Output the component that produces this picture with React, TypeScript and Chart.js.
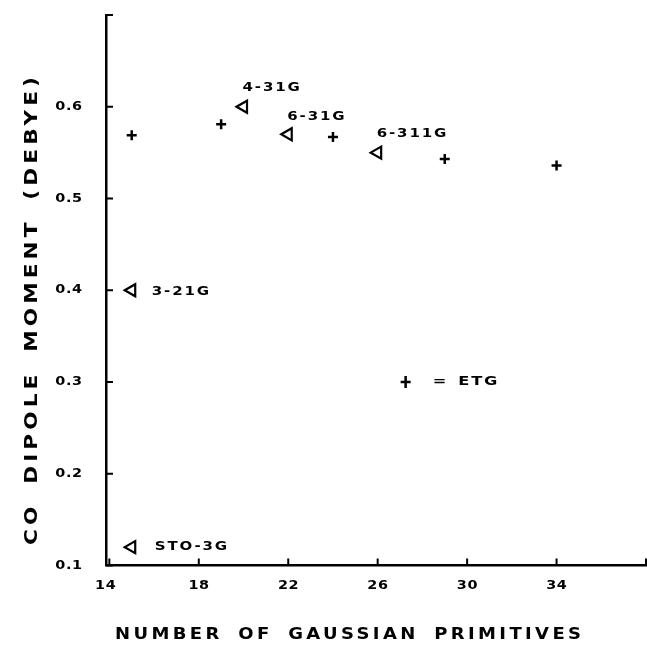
import { useEffect, useRef } from "react";
import { Chart, registerables } from "chart.js";

Chart.register(...registerables);

// ---- data ----
const etgPrimitives = [15, 19, 24, 29, 34];
const etgDipole = [0.569, 0.581, 0.567, 0.543, 0.536];

const basisNames = ["STO-3G", "3-21G", "4-31G", "6-31G", "6-311G"];
const basisPrimitives = [15, 15, 20, 22, 26];
const basisDipole = [0.12, 0.4, 0.6, 0.57, 0.55];

const xTickValues = [14, 18, 22, 26, 30, 34, 38];
const xTickLabels = ["14", "18", "22", "26", "30", "34", ""];
const yTickValues = [0.1, 0.2, 0.3, 0.4, 0.5, 0.6, 0.7];
const yTickLabels = ["0.1", "0.2", "0.3", "0.4", "0.5", "0.6", ""];

const xTitle = "NUMBER OF GAUSSIAN PRIMITIVES";
const yTitle = "CO DIPOLE MOMENT (DEBYE)";
const legendLabel = "= ETG";
const legendPrimitives = 27.25;
const legendDipole = 0.3;

// ---- layout / style (pixels) ----
const labelOffsets: [number, number][] = [
  [23, 0],
  [20, 2],
  [-1, -19],
  [-1, -17],
  [-1, -19],
];

type TextOpts = { size: number; sx: number; ls: number; ws: number; align: "left" | "center" | "right" };

function drawStretched(ctx: CanvasRenderingContext2D, text: string, x: number, y: number, o: TextOpts) {
  ctx.save();
  ctx.font = `bold ${o.size}px "DejaVu Sans"`;
  (ctx as any).letterSpacing = `${o.ls}px`;
  (ctx as any).wordSpacing = `${o.ws}px`;
  ctx.textBaseline = "middle";
  ctx.textAlign = "left";
  ctx.fillStyle = "#000";
  const w = (ctx.measureText(text).width - o.ls) * o.sx;
  let x0 = x;
  if (o.align === "center") x0 = x - w / 2;
  else if (o.align === "right") x0 = x - w;
  ctx.translate(x0, y);
  ctx.scale(o.sx, 1);
  ctx.fillText(text, 0, 0);
  ctx.restore();
}

const annotPlugin = {
  id: "annot",
  afterDraw(chart: any) {
    const ctx: CanvasRenderingContext2D = chart.ctx;
    const xs = chart.scales.x;
    const ys = chart.scales.y;
    const area = chart.chartArea;
    ctx.save();
    ctx.strokeStyle = "#000";
    ctx.lineWidth = 2;
    // inward tick marks
    xs.ticks.forEach((t: any) => {
      const px = xs.getPixelForValue(t.value);
      ctx.beginPath();
      ctx.moveTo(px, area.bottom);
      ctx.lineTo(px, area.bottom - 7);
      ctx.stroke();
    });
    ys.ticks.forEach((t: any) => {
      const py = ys.getPixelForValue(t.value);
      ctx.beginPath();
      ctx.moveTo(area.left, py);
      ctx.lineTo(area.left + 7, py);
      ctx.stroke();
    });
    // tick labels
    const tickFont: TextOpts = { size: 12, sx: 1.2, ls: 0.5, ws: 0, align: "center" };
    xTickValues.forEach((v, i) => {
      if (!xTickLabels[i]) return;
      drawStretched(ctx, xTickLabels[i], xs.getPixelForValue(v) - (i === 0 ? 4 : 0), area.bottom + 20, tickFont);
    });
    yTickValues.forEach((v, i) => {
      if (!yTickLabels[i]) return;
      drawStretched(ctx, yTickLabels[i], 82, ys.getPixelForValue(v), { ...tickFont, align: "right" });
    });
    // point labels
    const annFont: TextOpts = { size: 12, sx: 1.25, ls: 1.5, ws: 0, align: "left" };
    basisNames.forEach((name, i) => {
      const px = xs.getPixelForValue(basisPrimitives[i]);
      const py = ys.getPixelForValue(basisDipole[i]);
      drawStretched(ctx, name, px + labelOffsets[i][0], py + labelOffsets[i][1], annFont);
    });
    // legend key
    const lx = xs.getPixelForValue(legendPrimitives);
    const ly = ys.getPixelForValue(legendDipole);
    ctx.lineWidth = 2.5;
    ctx.beginPath();
    ctx.moveTo(lx - 5, ly);
    ctx.lineTo(lx + 5, ly);
    ctx.moveTo(lx, ly - 6);
    ctx.lineTo(lx, ly + 6);
    ctx.stroke();
    drawStretched(ctx, legendLabel, lx + 27, ly, { ...annFont, size: 13, ws: 2 });
    // axis titles
    drawStretched(ctx, xTitle, 348, 635, { size: 15, sx: 1.2, ls: 2.8, ws: 5, align: "center" });
    ctx.save();
    ctx.translate(32, 311);
    ctx.rotate(-Math.PI / 2);
    drawStretched(ctx, yTitle, 0, 0, { size: 18, sx: 1.2, ls: 3.4, ws: 6, align: "center" });
    ctx.restore();
    ctx.restore();
  },
};

export default function App() {
  const ref = useRef<HTMLCanvasElement>(null);
  useEffect(() => {
    if (!ref.current) return;
    const chart = new Chart(ref.current, {
      type: "scatter",
      data: {
        datasets: [
          {
            label: "ETG",
            data: etgPrimitives.map((x, i) => ({ x, y: etgDipole[i] })),
            pointStyle: "cross",
            pointRadius: 5,
            borderColor: "#000",
            borderWidth: 2.5,
            pointBorderWidth: 2.5,
          },
          {
            label: "Basis sets",
            data: basisPrimitives.map((x, i) => ({ x, y: basisDipole[i] })),
            pointStyle: "triangle",
            pointRotation: 270,
            pointRadius: 7,
            backgroundColor: "rgba(0,0,0,0)",
            borderColor: "#000",
            pointBorderWidth: 2.2,
          },
        ],
      },
      options: {
        animation: false,
        responsive: false,
        layout: { autoPadding: false, padding: { left: 106, right: 1, top: 15, bottom: 87.5 } },
        plugins: { legend: { display: false }, tooltip: { enabled: false } },
        scales: {
          x: {
            type: "linear",
            min: 13.85,
            max: 38,
            afterBuildTicks: (s: any) => {
              s.ticks = xTickValues.map((value) => ({ value }));
            },
            ticks: { display: false },
            grid: { display: false, drawTicks: false },
            border: { display: true, color: "#000", width: 2.5 },
          },
          y: {
            type: "linear",
            min: 0.1,
            max: 0.7,
            afterBuildTicks: (s: any) => {
              s.ticks = yTickValues.map((value) => ({ value }));
            },
            ticks: { display: false },
            grid: { display: false, drawTicks: false },
            border: { display: true, color: "#000", width: 2.5 },
          },
        },
      },
      plugins: [annotPlugin],
    });
    return () => chart.destroy();
  }, []);
  return (
    <div style={{ position: "absolute", left: 0, top: 0, width: 647, height: 653, background: "#fff" }}>
      <canvas ref={ref} width={647} height={653} style={{ display: "block" }} />
    </div>
  );
}
